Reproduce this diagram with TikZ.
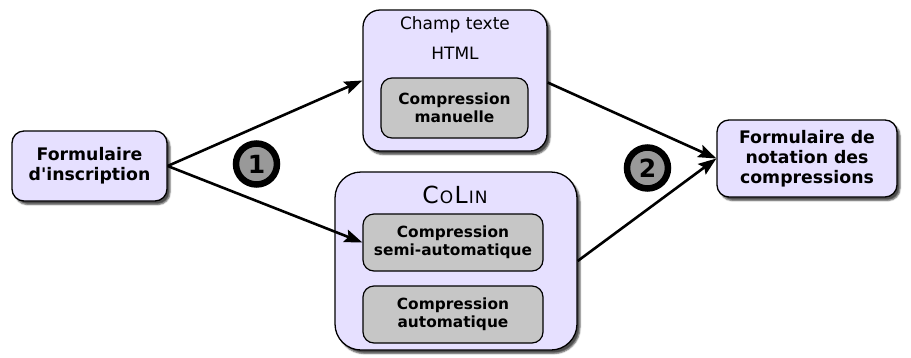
\documentclass[tikz,border=0pt]{standalone}
\usepackage{fontspec}
\setmainfont{DejaVu Sans}
\usetikzlibrary{arrows.meta,shadows.blur}
\definecolor{lav}{HTML}{E6E0FF}
\definecolor{innergray}{HTML}{C6C6C6}
\definecolor{numgray}{HTML}{999999}
\tikzset{
  boxshadow/.style={blur shadow={shadow xshift=3pt,shadow yshift=-3.5pt,shadow blur steps=4,shadow blur radius=1.5pt,shadow opacity=70}},
  outerbox/.style={draw=black,line width=1.3pt,fill=lav,rounded corners=17pt,boxshadow,inner sep=0pt,align=center,font=\fontsize{17.3}{20}\selectfont\bfseries},
  formbox/.style={outerbox,rounded corners=12pt},
  innerbox/.style={draw=black,line width=1.2pt,fill=innergray,rounded corners=11pt,inner sep=0pt,align=center,font=\fontsize{15.4}{18}\selectfont\bfseries},
  flow/.style={line width=2.6pt,-{Stealth[length=18pt,width=13pt,inset=3pt]}},
  stepnum/.style={circle,draw=black,line width=6.5pt,fill=numgray,minimum size=41pt,inner sep=0pt,font=\fontsize{25}{25}\selectfont\bfseries},
}
\newcommand{\smallcapletters}[1]{{\fontsize{17}{17}\selectfont #1}}
\begin{document}
\begin{tikzpicture}[x=1pt,y=-1pt]
\useasboundingbox (0,0) rectangle (911,357);
% input form
\node[formbox,minimum width=155pt,minimum height=70pt] (insc) at (89.5,166) {Formulaire\\d\textquotesingle inscription};
% plain HTML text field
\node[outerbox,minimum width=184pt,minimum height=141pt] (champ) at (455,80.5) {};
\node[font=\fontsize{17}{20}\selectfont] (champt1) at (455,25) {Champ texte};
\node[font=\fontsize{17}{20}\selectfont] (champt2) at (455,53) {HTML};
\node[innerbox,minimum width=147pt,minimum height=60pt] (manu) at (454.5,108) {Compression\\manuelle};
% CoLin tool
\node[outerbox,rounded corners=26pt,minimum width=242pt,minimum height=178pt] (colin) at (456,261) {};
\node[font=\fontsize{23.5}{23.5}\selectfont] (colint) at (455,195) {C\kern1pt\smallcapletters{O}\kern1.5pt L\kern1pt\smallcapletters{I\kern1pt N}};
\node[innerbox,minimum width=180pt,minimum height=57pt] (semi) at (453,242.5) {Compression\\semi-automatique};
\node[innerbox,minimum width=180pt,minimum height=57pt] (auto) at (453,314.5) {Compression\\automatique};
% rating form
\node[formbox,minimum width=180pt,minimum height=77pt] (nota) at (807,158.5) {Formulaire de\\notation des\\compressions};
% connectors
\draw[flow] (insc.east) -- (champ.west);
\draw[flow] (insc.east) -- (semi.west);
\draw[flow] ([yshift=-2pt]champ.east) -- (nota.west);
\draw[flow] (colin.east) -- (nota.west);
% step markers
\node[stepnum] (s1) at (256.5,164) {1};
\node[stepnum] (s2) at (647.5,168) {2};
\end{tikzpicture}
\end{document}
